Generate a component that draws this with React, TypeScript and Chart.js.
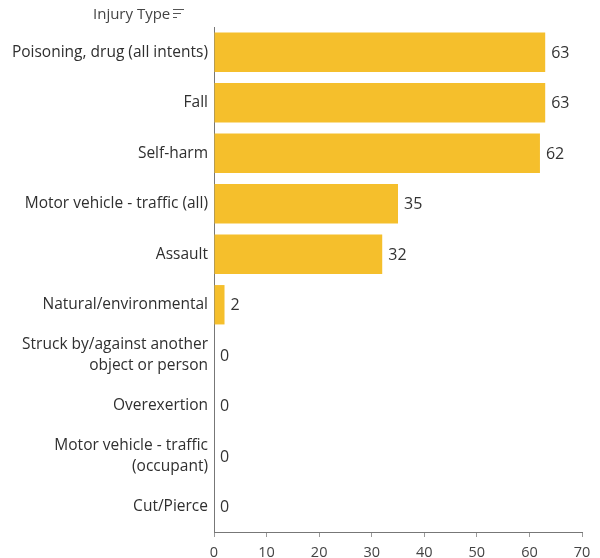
import React, { useEffect, useRef } from "react";
import { Chart, registerables } from "chart.js";

Chart.register(...registerables);

const categories: (string | string[])[] = [
  "Poisoning, drug (all intents)",
  "Fall",
  "Self-harm",
  "Motor vehicle - traffic (all)",
  "Assault",
  "Natural/environmental",
  ["Struck by/against another", "object or person"],
  "Overexertion",
  ["Motor vehicle - traffic", "(occupant)"],
  "Cut/Pierce",
];
const values: number[] = [63, 63, 62, 35, 32, 2, 0, 0, 0, 0];
const xTicks: number[] = [0, 10, 20, 30, 40, 50, 60, 70];
const headerText = "Injury Type";

const FONT = "'Open Sans', 'Noto Sans', sans-serif";

const valueLabels = {
  id: "valueLabels",
  afterDatasetsDraw(chart: any) {
    const ctx = chart.ctx;
    const meta = chart.getDatasetMeta(0);
    ctx.save();
    ctx.font = `16px ${FONT}`;
    ctx.fillStyle = "#333333";
    ctx.textAlign = "left";
    ctx.textBaseline = "middle";
    meta.data.forEach((bar: any, i: number) => {
      ctx.fillText(String(values[i]), bar.x + 6, bar.y + 1);
    });
    ctx.restore();
  },
};

export default function App() {
  const ref = useRef<HTMLCanvasElement>(null);
  useEffect(() => {
    if (!ref.current) return;
    const chart = new Chart(ref.current, {
      type: "bar",
      data: {
        labels: categories,
        datasets: [
          {
            data: values,
            backgroundColor: "#F5BF2C",
            borderWidth: 0,
            categoryPercentage: 1,
            barPercentage: 0.78,
          },
        ],
      },
      options: {
        indexAxis: "y",
        animation: false,
        responsive: false,
        maintainAspectRatio: false,
        layout: { padding: { top: 27, right: 18, left: 0, bottom: 0 } },
        plugins: { legend: { display: false }, tooltip: { enabled: false } },
        scales: {
          x: {
            min: 0,
            max: 70,
            afterBuildTicks: (s: any) => {
              s.ticks = xTicks.map((v) => ({ value: v }));
            },
            afterFit: (s: any) => {
              s.height = 26;
            },
            grid: {
              display: true,
              drawOnChartArea: false,
              drawTicks: true,
              tickLength: 5,
              color: "#9a9a9a",
            },
            border: { display: true, color: "#777777", width: 1 },
            ticks: {
              color: "#444444",
              font: { family: FONT, size: 14.5 },
              padding: 7,
            },
          },
          y: {
            afterFit: (s: any) => {
              s.width = 214;
            },
            grid: { display: false, drawTicks: false },
            border: { display: true, color: "#777777", width: 1 },
            ticks: {
              color: "#2f2f2f",
              font: { family: FONT, size: 15.5, lineHeight: 1.35 },
              padding: 6,
            },
          },
        },
      },
      plugins: [valueLabels],
    });
    return () => chart.destroy();
  }, []);
  return (
    <div style={{ position: "fixed", left: 0, top: 0, width: 600, height: 558, background: "#fff" }}>
      <canvas ref={ref} width={600} height={558} style={{ width: 600, height: 558 }} />
      <div
        style={{
          position: "absolute",
          left: 93,
          top: 3,
          font: `15px ${FONT}`,
          color: "#444",
          display: "flex",
          alignItems: "center",
        }}
      >
        <span>{headerText}</span>
        <span style={{ display: "inline-block", marginLeft: 3, width: 11, height: 11, position: "relative" }}>
          <span style={{ position: "absolute", left: 0, top: 1, width: 11, height: 1, background: "#555" }} />
          <span style={{ position: "absolute", left: 0, top: 5, width: 8, height: 1, background: "#555" }} />
          <span style={{ position: "absolute", left: 0, top: 9, width: 4, height: 1, background: "#555" }} />
        </span>
      </div>
    </div>
  );
}
